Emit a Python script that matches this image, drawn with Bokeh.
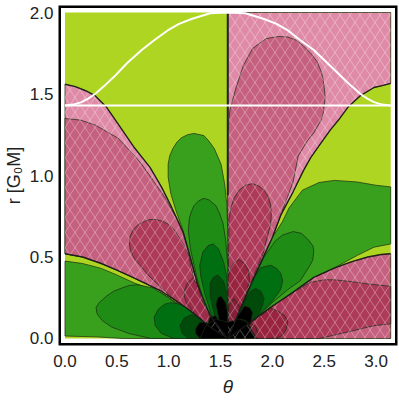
from urllib.parse import quote
from bokeh.plotting import figure
from bokeh.models import FixedTicker, Range1d, PrintfTickFormatter, ImageURLTexture
from bokeh.embed import file_html
from bokeh.resources import INLINE

x_ticks = [0.0, 0.5, 1.0, 1.5, 2.0, 2.5, 3.0]
y_ticks = [0.0, 0.5, 1.0, 1.5, 2.0]
PI = 3.1416
X_LOW, X_HIGH, Y_LOW, Y_HIGH = -0.0625, 3.207, -0.043, 2.043

ergo = [(0,1.43),(0.08,1.435),(0.16,1.45),(0.22,1.47),(0.29,1.5),(0.38,1.55),(0.48,1.61),(0.6,1.69),(0.74,1.77),(0.86,1.83),(0.99,1.89),(1.1,1.93),(1.22,1.96),(1.4,1.995),(1.57,2.0),
        (1.74,1.995),(1.92,1.96),(2.04,1.93),(2.15,1.89),(2.27,1.83),(2.4,1.77),(2.53,1.69),(2.66,1.61),(2.76,1.55),(2.85,1.5),(2.92,1.47),(2.98,1.45),(3.06,1.435),(PI,1.43)]
horizon = [(0,1.43),(PI,1.43)]
axis_line = [(1.57,2.0),(1.57,0.88)]

left_edge = [(1.09,0.72),(1.14,0.65),(1.19,0.54),(1.28,0.33),(1.4,0.14),(1.57,0)]
left_floor = [(1.4,0.07),(1.25,0.15),(1.1,0.22),(0.93,0.29),(0.8,0.33),(0.67,0.37),(0.5,0.42),(0.35,0.46),(0.17,0.50),(0,0.52)]
pink_left = [(0,1.56),(0.1,1.545),(0.2,1.52),(0.29,1.49),(0.4,1.42),(0.53,1.30),(0.67,1.17),(0.82,1.05),(0.93,0.93),(1.01,0.83)] + left_edge + left_floor
pink_left2 = [(0,1.35),(0.15,1.34),(0.29,1.31),(0.4,1.27),(0.51,1.23),(0.63,1.15),(0.74,1.07),(0.85,0.97),(0.97,0.86),(1.03,0.79)] + left_edge + left_floor
pink_left3 = [(1.57,0),(1.31,0.17),(1.26,0.31),(1.19,0.52),(1.14,0.58),(1.09,0.63),(1.05,0.67),(1.0,0.70),(0.94,0.72),(0.88,0.73),(0.82,0.73),(0.77,0.72),(0.71,0.7),(0.66,0.67),(0.63,0.63),(0.62,0.59),(0.63,0.54),(0.67,0.49),(0.8,0.39),(0.93,0.31),(1.09,0.22),(1.25,0.14)]
pink_left4 = [(1.57,0),(1.42,0.05),(1.25,0.15),(1.17,0.22),(1.15,0.26),(1.15,0.29),(1.18,0.34),(1.23,0.37),(1.28,0.33),(1.33,0.22),(1.45,0.08)]
pink_left5 = [(1.57,0.02),(1.38,0.08),(1.4,0.17),(1.44,0.19),(1.5,0.12)]

tall_edge = [(2.3,1.03),(2.2,0.9),(2.08,0.755),(2.0,0.62),(1.82,0.37),(1.7,0.19),(1.57,0)]
pink_tall = [(1.57,2),(PI,2),(PI,1.565),(3.05,1.55),(2.98,1.54),(2.85,1.49),(2.73,1.42),(2.65,1.35),(2.56,1.28),(2.47,1.2),(2.37,1.11)] + tall_edge
pink_tall2 = [(1.57,0),(1.57,0.9),(1.57,1.26),(1.59,1.40),(1.65,1.54),(1.72,1.675),(1.81,1.78),(1.94,1.84),(2.06,1.853),(2.15,1.85),(2.23,1.83),(2.3,1.795),(2.37,1.75),(2.43,1.7),(2.47,1.64),(2.49,1.59),(2.50,1.54),(2.51,1.48),(2.50,1.43),(2.49,1.38),(2.47,1.34),(2.40,1.26),(2.34,1.215),(2.25,1.12),(2.2,0.96)] + tall_edge[2:]
pink_tall3 = [(1.57,0),(1.58,0.645),(1.58,0.73),(1.60,0.80),(1.63,0.86),(1.68,0.91),(1.74,0.94),(1.81,0.95),(1.87,0.935),(1.92,0.91),(1.96,0.87),(1.985,0.816),(1.99,0.76),(1.985,0.705),(1.91,0.52),(1.81,0.37),(1.7,0.19)]
pink_tall4 = [(1.57,0),(1.57,0.37),(1.6,0.435),(1.64,0.47),(1.68,0.485),(1.73,0.46),(1.77,0.417),(1.78,0.356),(1.74,0.26),(1.65,0.12)]
pink_tall5 = [(1.57,0.05),(1.58,0.2),(1.63,0.245),(1.69,0.19),(1.65,0.12)]

low_edge = [(1.79,0.1),(1.98,0.19),(2.18,0.275),(2.4,0.375),(2.59,0.43),(2.76,0.47),(2.92,0.5),(3.05,0.515),(PI,0.52)]
pink_low = [(1.57,0)] + low_edge + [(PI,0)]
pink_low2 = [(1.57,0),(1.79,0.1),(1.98,0.19),(2.18,0.275),(2.3,0.32),(2.37,0.345),(2.5,0.36),(2.6,0.36),(2.75,0.35),(2.92,0.335),(PI,0.32),(PI,0.09),(3.0,0.08),(2.92,0.07),(2.73,0.04),(2.56,0.015),(2.45,0)]
pink_low3 = [(1.6,0),(1.8,0.1),(1.98,0.185),(2.05,0.17),(2.12,0.14),(2.15,0.1),(2.13,0.05),(2.08,0.01),(2.0,0)]
pink_low4 = [(1.72,0),(1.78,0.1),(1.84,0.07),(1.86,0.03),(1.82,0)]

green_left = [(0,0.475),(0.17,0.46),(0.35,0.43),(0.5,0.39),(0.67,0.34),(0.8,0.31),(0.93,0.28),(1.1,0.21),(1.25,0.14),(1.4,0.06),(1.57,0),(0.55,0.0),(0.3,0.01),(0,0.015)]
green_left2 = [(1.57,0),(1.25,0.13),(1.0,0.25),(0.85,0.31),(0.7,0.33),(0.62,0.325),(0.55,0.31),(0.47,0.29),(0.4,0.26),(0.33,0.22),(0.3,0.19),(0.31,0.15),(0.36,0.11),(0.45,0.07),(0.62,0.03),(0.83,0.0)]
green_left3 = [(1.57,0),(1.3,0.12),(1.15,0.2),(1.08,0.215),(1.02,0.22),(0.96,0.21),(0.9,0.18),(0.86,0.13),(0.87,0.08),(0.93,0.03),(1.05,0.0)]
green_left4 = [(1.57,0),(1.35,0.1),(1.28,0.135),(1.22,0.147),(1.15,0.125),(1.11,0.08),(1.13,0.03),(1.19,0.0)]
black_left = [(1.57,0),(1.3,0),(1.26,0.03),(1.26,0.06),(1.3,0.1),(1.36,0.1),(1.45,0.06)]

green_top = [(1.57,0),(1.4,0.14),(1.28,0.33),(1.19,0.54),(1.14,0.66),(1.07,0.785),(1.02,0.89),(0.995,0.99),(0.995,1.07),(1.01,1.12),(1.04,1.165),(1.08,1.205),(1.12,1.23),(1.18,1.25),(1.245,1.258),(1.34,1.245),(1.39,1.21),(1.44,1.165),(1.505,1.07),(1.54,0.95),(1.56,0.83),(1.57,0.66)]
green_top2 = [(1.57,0),(1.35,0.2),(1.27,0.38),(1.21,0.55),(1.19,0.66),(1.2,0.74),(1.22,0.78),(1.245,0.815),(1.29,0.845),(1.34,0.86),(1.39,0.85),(1.455,0.815),(1.49,0.77),(1.525,0.705),(1.55,0.6),(1.57,0.45)]
green_top3 = [(1.57,0),(1.42,0.13),(1.35,0.27),(1.31,0.38),(1.3,0.45),(1.33,0.53),(1.38,0.57),(1.43,0.58),(1.48,0.55),(1.53,0.47),(1.56,0.38),(1.57,0.25)]
green_top4 = [(1.57,0),(1.45,0.12),(1.4,0.26),(1.4,0.34),(1.43,0.375),(1.475,0.39),(1.53,0.35),(1.56,0.28),(1.57,0.2)]
black_top = [(1.57,0),(1.49,0.1),(1.457,0.21),(1.475,0.25),(1.505,0.26),(1.55,0.22),(1.57,0.16)]
black_mid = [(1.57,0),(1.42,0.03),(1.38,0.09),(1.4,0.13),(1.45,0.14),(1.5,0.1)]
black_core = [(1.3,0),(1.36,0.08),(1.45,0.12),(1.57,0.1),(1.68,0.12),(1.75,0.1),(1.85,0)]

green_right = [(1.6,0),(1.7,0.19),(1.82,0.37),(2.0,0.62),(2.1,0.72),(2.16,0.80),(2.29,0.91),(2.45,0.957),(2.6,0.97),(2.82,0.96),(3.0,0.94),(PI,0.93),(PI,0.58),(2.98,0.56),(2.82,0.51),(2.59,0.43),(2.4,0.375),(2.18,0.275),(1.98,0.19),(1.79,0.1)]
green_right2 = [(1.6,0.02),(1.7,0.2),(1.86,0.42),(1.92,0.5),(2.03,0.60),(2.1,0.635),(2.2,0.656),(2.28,0.645),(2.34,0.61),(2.39,0.57),(2.4,0.54),(2.39,0.48),(2.35,0.435),(2.27,0.355),(2.15,0.3),(2.0,0.22),(1.85,0.13)]
green_right3 = [(1.6,0.01),(1.7,0.2),(1.82,0.37),(1.89,0.435),(1.985,0.45),(2.04,0.43),(2.08,0.40),(2.1,0.355),(2.08,0.3),(2.0,0.23),(1.85,0.13)]
green_right4 = [(1.6,0.01),(1.68,0.15),(1.745,0.245),(1.79,0.29),(1.84,0.307),(1.89,0.29),(1.92,0.245),(1.905,0.2),(1.87,0.153),(1.82,0.12)]
black_right = [(1.57,0),(1.63,0.1),(1.69,0.16),(1.73,0.2),(1.78,0.19),(1.81,0.16),(1.79,0.09),(1.7,0.02)]
black_right2 = [(1.57,0),(1.62,0.07),(1.68,0.12),(1.75,0.11),(1.79,0.07),(1.78,0.01),(1.72,0)]

LIME, P1, P2, P3, P4 = "#AFD523", "#DF8BA8", "#C5607F", "#AE3A5A", "#98243F"
G1, G2, G3, G4 = "#38A01C", "#1F8C16", "#006F12", "#004A0A"

p = figure(width=398, height=400, output_backend="svg", toolbar_location=None,
           x_range=Range1d(X_LOW, X_HIGH), y_range=Range1d(Y_LOW, Y_HIGH),
           min_border_left=57, min_border_right=1, min_border_top=5, min_border_bottom=55)
p.grid.visible = False
p.outline_line_color = None
p.background_fill_color = "white"

def shape(points, **kw):
    xs = [a for a, _ in points]
    ys = [b for _, b in points]
    kw.setdefault("line_join", "round")
    p.patch(xs, ys, **kw)

def trace(points, **kw):
    p.line([a for a, _ in points], [b for _, b in points], **kw)

shape([(0,0),(PI,0),(PI,2),(0,2)], fill_color=LIME, line_color=None)

layers = [
    (pink_left, P1), (pink_left2, P2), (pink_left3, P3), (pink_left4, "#9C2A48"), (pink_left5, "#86203A"),
    (pink_tall, P1), (pink_tall2, P2), (pink_tall3, P3), (pink_tall4, P4), (pink_tall5, "#86203A"),
    (pink_low, P2), (pink_low2, P3), (pink_low3, P4), (pink_low4, "#86203A"),
    (green_left, G1), (green_left2, G2), (green_left3, G3), (green_left4, G4),
    (green_top, G1), (green_top2, G2), (green_top3, G3), (green_top4, G4),
    (green_right, G1), (green_right2, G2), (green_right3, G3), (green_right4, G4),
    (black_left, "black"), (black_mid, "black"), (black_top, "black"),
    (black_right, "black"), (black_right2, "black"), (black_core, "black"),
]
for pts, col in layers:
    shape(pts, fill_color=col, line_color="#1c2a14", line_alpha=0.7, line_width=1)

tile = ("<svg xmlns='http://www.w3.org/2000/svg' width='10' height='15'>"
        "<path d='M0 0L10 15M10 0L0 15' stroke='white' stroke-opacity='0.3' stroke-width='1' fill='none'/></svg>")
lattice = ImageURLTexture(url="data:image/svg+xml," + quote(tile), repetition="repeat")
for pts in (pink_left, pink_tall, pink_low):
    shape(pts, fill_alpha=0, line_color=None, hatch_pattern="lattice", hatch_extra={"lattice": lattice})

trace(pink_left, line_color="#181818", line_width=1.4, line_alpha=0.85, line_join="round")
trace(pink_tall[2:], line_color="#181818", line_width=1.4, line_alpha=0.85, line_join="round")
trace(pink_low[:-1], line_color="#181818", line_width=1.4, line_alpha=0.85, line_join="round")
trace(axis_line, line_color="#222222", line_width=2)
trace(horizon, line_color="white", line_width=2)
trace(ergo, line_color="white", line_width=2, line_join="round")

frame_box = [(X_LOW,Y_LOW),(X_HIGH,Y_LOW),(X_HIGH,Y_HIGH),(X_LOW,Y_HIGH),(X_LOW,Y_LOW)]
trace(frame_box, line_color="black", line_width=5, line_join="miter")

for ax, ticks in ((p.xaxis, x_ticks), (p.yaxis, y_ticks)):
    ax.ticker = FixedTicker(ticks=ticks)
    ax.formatter = PrintfTickFormatter(format="%.1f")
    ax.axis_line_color = None
    ax.major_tick_line_color = None
    ax.minor_tick_line_color = None
    ax.major_tick_out = 0
    ax.minor_tick_out = 0
    ax.major_label_text_font = "Liberation Sans"
    ax.major_label_text_font_size = "17px"
    ax.major_label_text_color = "#222222"
    ax.axis_label_text_font = "Liberation Sans"
    ax.axis_label_text_color = "#222222"
p.xaxis.major_label_standoff = 9
p.yaxis.major_label_standoff = 5

p.xaxis.axis_label = "θ"
p.xaxis.axis_label_text_font_style = "italic"
p.xaxis.axis_label_text_font_size = "19px"
p.xaxis.axis_label_standoff = 6

p.yaxis.axis_label = "r [G₀M]"
p.yaxis.axis_label_text_font_style = "normal"
p.yaxis.axis_label_text_font_size = "18px"
p.yaxis.axis_label_standoff = 3

open("out.html", "w").write(file_html(p, INLINE))
